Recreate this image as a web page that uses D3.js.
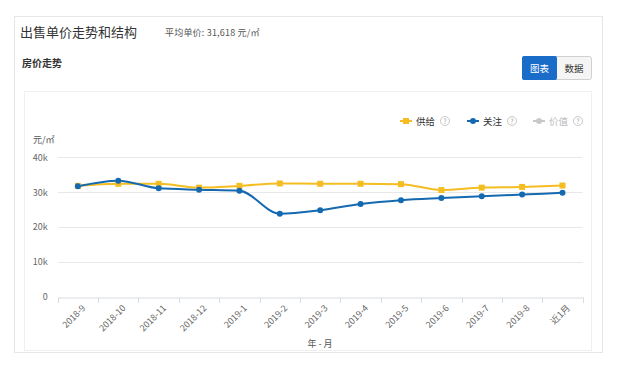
<!DOCTYPE html>
<html><head><meta charset="utf-8">
<script src="https://cdn.jsdelivr.net/npm/d3@7"></script>
<style>
body{margin:0;background:#fff;font-family:"Noto Sans CJK SC","Noto Sans",sans-serif;}
</style></head>
<body><svg id="c" width="636" height="367"></svg>
<script>
const months = ["2018-9","2018-10","2018-11","2018-12","2019-1","2019-2","2019-3","2019-4","2019-5","2019-6","2019-7","2019-8","近1月"];
const supply = [31800,32400,32400,31300,31800,32500,32400,32400,32300,30600,31300,31500,31900];
const attention = [31700,33300,31100,30700,30400,23800,24800,26600,27700,28300,28800,29300,29800];
const yTicks = [0,10000,20000,30000,40000];
const yTickLabels = ["0","10k","20k","30k","40k"];
const legendItems = [{name:"供给",color:"#f4bd22"},{name:"关注",color:"#1469b1"},{name:"价值",color:"#c8c8c8"}];

const svg = d3.select("#c");
const F = '"Noto Sans CJK SC","Noto Sans",sans-serif';
// outer card
svg.append("rect").attr("x",14.5).attr("y",16.5).attr("width",588).attr("height",336).attr("fill","#fff").attr("stroke","#e6e6e6");
svg.append("text").attr("x",20).attr("y",37).attr("font-size",13).attr("fill","#333").attr("font-family",F).text("出售单价走势和结构");
svg.append("text").attr("x",165).attr("y",36).attr("font-size",9).attr("letter-spacing",0.2).attr("fill","#555").attr("font-family",F).text("平均单价:  31,618 元/㎡");
svg.append("text").attr("x",22).attr("y",67).attr("font-size",10).attr("font-weight","bold").attr("fill","#333").attr("font-family",F).text("房价走势");
// buttons
svg.append("rect").attr("x",522.5).attr("y",56.5).attr("width",69).attr("height",23).attr("rx",2).attr("fill","#f5f5f5").attr("stroke","#d0d0d0");
svg.append("rect").attr("x",522).attr("y",56).attr("width",35).attr("height",24).attr("rx",2).attr("fill","#1a6cc9");
svg.append("text").attr("x",539.5).attr("y",71.5).attr("text-anchor","middle").attr("font-size",9.5).attr("fill","#fff").attr("font-family",F).text("图表");
svg.append("text").attr("x",574).attr("y",71.5).attr("text-anchor","middle").attr("font-size",9.5).attr("fill","#333").attr("font-family",F).text("数据");
// inner panel
svg.append("rect").attr("x",24.5).attr("y",91.5).attr("width",567).attr("height",259).attr("fill","#fff").attr("stroke","#f0f0f0");

const x = d3.scaleBand().domain(months).range([57.7,582.7]);
const y = d3.scaleLinear().domain([0,40000]).range([296.7,157.3]);
const g = svg.append("g");
// grid
g.selectAll("line.grid").data(yTicks.slice(1)).join("line")
  .attr("x1",57.7).attr("x2",582.7).attr("y1",d=>Math.round(y(d))+0.5).attr("y2",d=>Math.round(y(d))+0.5)
  .attr("stroke","#e8e8e8");
// y axis labels
const yAx = g.append("g").attr("transform","translate(57.7,0)")
  .call(d3.axisLeft(y).tickValues(yTicks).tickFormat((d,i)=>yTickLabels[i]).tickSize(0).tickPadding(10));
yAx.select(".domain").remove();
yAx.selectAll("text").attr("font-size",9).attr("fill","#666").attr("font-family",F);
svg.append("text").attr("x",33).attr("y",143).attr("font-size",9).attr("fill","#555").attr("font-family",F).text("元/㎡");
// x axis
const xAx = g.append("g").attr("transform","translate(0,"+(Math.round(y(0))+0.5)+")")
  .call(d3.axisBottom(x).tickSizeOuter(0).tickSizeInner(0));
xAx.select(".domain").attr("stroke","#d8dde3");
xAx.selectAll(".tick line").remove();
// ticks at band boundaries
const bounds = months.map(m=>x(m)).concat([x.range()[1]]);
g.selectAll("line.xt").data(bounds).join("line")
  .attr("x1",d=>Math.round(d)+0.5).attr("x2",d=>Math.round(d)+0.5)
  .attr("y1",Math.round(y(0))+0.5).attr("y2",Math.round(y(0))+6).attr("stroke","#d8dde3");
xAx.selectAll("text").attr("font-size",9).attr("fill","#666").attr("font-family",F)
  .attr("text-anchor","end").attr("dy",0).attr("transform","translate(6,9) rotate(-45)");
svg.append("text").attr("x",320).attr("y",347).attr("text-anchor","middle").attr("font-size",9).attr("fill","#555").attr("font-family",F).text("年 - 月");

const cx = m => x(m)+x.bandwidth()/2;
const line = d3.line().x((d,i)=>cx(months[i])).y(d=>y(d)).curve(d3.curveMonotoneX);
g.append("path").attr("d",line(supply)).attr("fill","none").attr("stroke",legendItems[0].color).attr("stroke-width",2);
g.append("path").attr("d",line(attention)).attr("fill","none").attr("stroke",legendItems[1].color).attr("stroke-width",2);
g.selectAll("rect.sp").data(supply).join("rect")
  .attr("x",(d,i)=>cx(months[i])-3).attr("y",d=>y(d)-3).attr("width",6).attr("height",6).attr("fill",legendItems[0].color);
g.selectAll("circle.at").data(attention).join("circle")
  .attr("cx",(d,i)=>cx(months[i])).attr("cy",d=>y(d)).attr("r",3).attr("fill",legendItems[1].color);

// legend
const lx = [400,467,533];
const lg = svg.append("g");
legendItems.forEach((it,i)=>{
  const gg = lg.append("g").attr("transform","translate("+lx[i]+",121)");
  gg.append("line").attr("x1",0).attr("x2",12).attr("stroke",it.color).attr("stroke-width",2);
  if(i===0) gg.append("rect").attr("x",3).attr("y",-3).attr("width",6).attr("height",6).attr("fill",it.color);
  else gg.append("circle").attr("cx",6).attr("r",3).attr("fill",it.color);
  gg.append("text").attr("x",16).attr("y",3.5).attr("font-size",9.5).attr("fill",i===2?"#bbb":"#333").attr("font-family",F).text(it.name);
  gg.append("circle").attr("cx",45).attr("cy",0).attr("r",4.5).attr("fill","none").attr("stroke","#bbb").attr("stroke-width",0.8);
  gg.append("text").attr("x",45).attr("y",2.8).attr("text-anchor","middle").attr("font-size",7).attr("fill","#aaa").attr("font-family",F).text("?");
});
</script></body></html>
